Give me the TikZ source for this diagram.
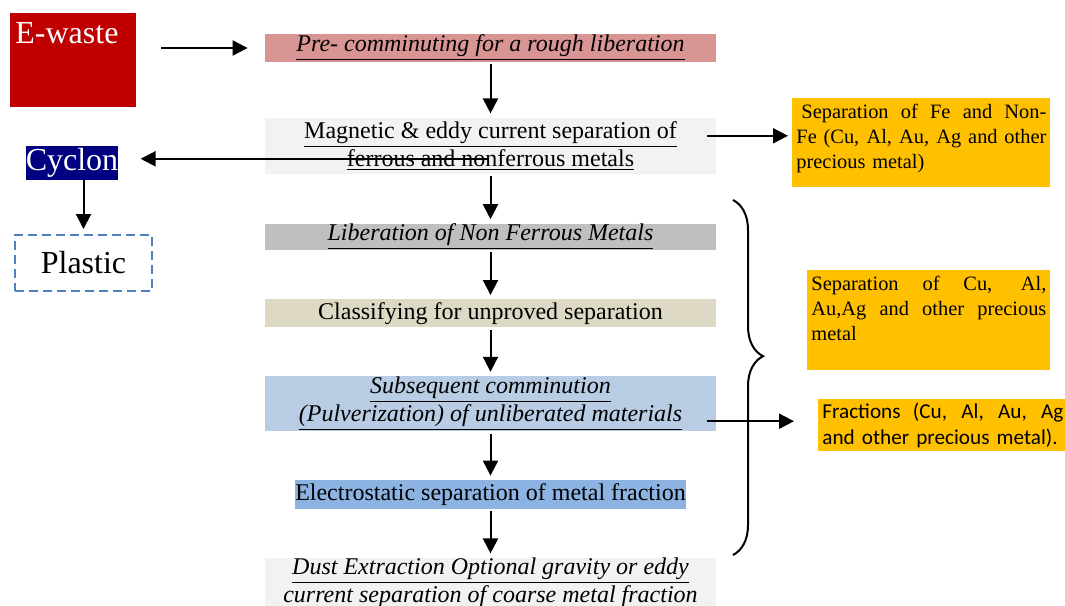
\documentclass[tikz,border=0pt]{standalone}
\usepackage{fontspec}
\setmainfont{Liberation Serif}
\newfontfamily\calibfont{Carlito}
\usepackage{xcolor}
\usetikzlibrary{arrows.meta,positioning,decorations.pathreplacing}

\definecolor{ewred}{HTML}{C00000}
\definecolor{prered}{HTML}{D99594}
\definecolor{lightgr}{HTML}{F2F2F2}
\definecolor{midgr}{HTML}{BFBFBF}
\definecolor{clsbeige}{HTML}{DDD9C4}
\definecolor{paleblue}{HTML}{B8CCE4}
\definecolor{elblue}{HTML}{8DB3E2}
\definecolor{amber}{HTML}{FFC000}
\definecolor{cycnavy}{HTML}{000080}
\definecolor{dashblue}{HTML}{4F81BD}

% one justified line of a side box
\newcommand{\jline}[1]{\leavevmode\hbox to \hsize{\spaceskip=\fontdimen2\font plus 1fil\relax #1}}

\begin{document}
\begin{tikzpicture}[
  x=0.5pt, y=-0.5pt,
  font=\fontsize{12}{13}\selectfont,
  box/.style ={inner sep=0pt, align=center, minimum width=225.5pt},
  side/.style={fill=amber, anchor=north west, inner xsep=2pt, inner ysep=0pt,
               align=left, text height=10pt, font=\fontsize{10.2}{12.4}\selectfont},
  big/.style ={font=\fontsize{16}{18}\selectfont},
  arr/.style ={-{Triangle[length=7.5pt,width=7.5pt]}, line width=1pt,
               shorten <=1pt, shorten >=2pt}
]
\useasboundingbox (0,0) rectangle (1065,605);

\node[big, fill=ewred, text=white, anchor=north west, align=left,
      text width=58pt, inner xsep=2.5pt, inner ysep=0pt,
      text height=15pt, text depth=32pt] (ew) at (10,13) {E-waste};

\node[box, fill=prered, minimum height=14pt] (pre) at (490.5,48)
      {\itshape\underline{Pre- comminuting for a rough liberation}};
\node[box, fill=lightgr, minimum height=28pt, below=27.5pt of pre] (mag)
      {\underline{Magnetic \& eddy current separation of}\\
       \underline{ferrous and nonferrous metals}};
\node[box, fill=midgr, minimum height=13pt, below=24.5pt of mag] (lib)
      {\itshape\underline{Liberation of Non Ferrous Metals}};
\node[box, fill=clsbeige, minimum height=14pt, below=24.5pt of lib] (cls)
      {Classifying for unproved separation};
\node[box, fill=paleblue, minimum height=27.5pt, below=24pt of cls] (sub)
      {\itshape\underline{Subsequent comminution}\\
       \itshape\underline{(Pulverization) of unliberated materials}};
\node[fill=elblue, inner sep=0pt, minimum height=14.5pt, below=24pt of sub] (ele)
      {Electrostatic separation of metal fraction};
\node[box, fill=lightgr, minimum height=26pt, below=24pt of ele] (dust)
      {\itshape\underline{Dust Extraction Optional gravity or eddy}\\
       \itshape\underline{current separation of coarse metal fraction}};

\node[side, text width=125pt, text depth=34.5pt] (fe) at (792,98)
      {\jline{\hspace*{2.5pt}Separation of Fe and Non-}\\
       \jline{Fe (Cu, Al, Au, Ag and other}\\
       precious metal)};
\node[side, text width=117.5pt, text depth=40pt] (cu) at (807,270)
      {\jline{Separation of Cu, Al,}\\
       \jline{Au,Ag and other precious}\\
       metal};
\node[side, text width=120.5pt, text height=9.5pt, text depth=16.5pt,
      font=\calibfont\fontsize{10.6}{13}\selectfont] (fra) at (818,399)
      {\jline{Fractions (Cu, Al, Au, Ag}\\
       and other precious metal).};

\node[big, fill=cycnavy, text=white, inner sep=0pt,
      minimum width=46pt, minimum height=17pt] (cyc) at (72,163) {Cyclon};
\node[big, draw=dashblue, dash pattern=on 4.5pt off 2.5pt, line width=1pt,
      minimum width=68.5pt, minimum height=28pt] (pla) at (83.5,263)
      {Plastic\hspace{5pt}};

\coordinate (magr) at ([xshift=-5.5pt,yshift=5pt]mag.east);
\coordinate (magl) at ([yshift=-6.5pt]mag.center);
\coordinate (subr) at ([xshift=-5.5pt,yshift=-8.75pt]sub.east);
\coordinate (bt) at (733,200);
\coordinate (bb) at (733,555);

\draw[arr, shorten <=12pt, shorten >=8.5pt] (pre.west -| ew.east) -- (pre.west);
\draw[arr] (pre) -- (mag);
\draw[arr] (mag) -- (lib);
\draw[arr] (lib) -- (cls);
\draw[arr] (cls) -- (sub);
\draw[arr] (sub) -- (ele);
\draw[arr] (ele) -- (dust);
\draw[arr] (magr) -- (magr -| fe.west);
\draw[arr, shorten >=11pt] (magl) -- (magl -| cyc.east);
\draw[arr, shorten >=12pt] (subr) -- (subr -| fra.west);
\draw[arr, shorten <=0pt, shorten >=2.5pt] (pla.north |- cyc.south) -- (pla.north);
\draw[line width=1pt, decorate,
      decoration={brace, amplitude=15pt, aspect=0.44}] (bt) -- (bb);
\end{tikzpicture}
\end{document}
